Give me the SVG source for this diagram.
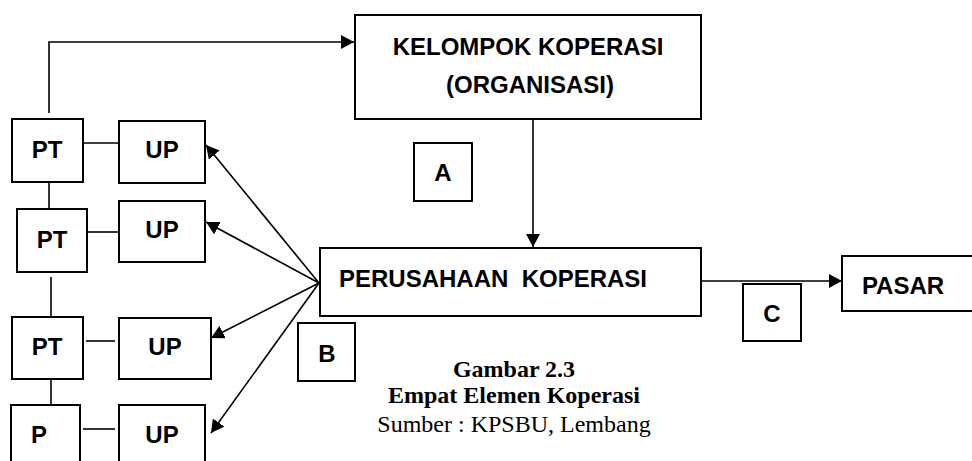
<svg xmlns="http://www.w3.org/2000/svg" width="972" height="461" viewBox="0 0 972 461">
<style>
.box{fill:#fff;stroke:#000;stroke-width:2}
.lbl{font-family:"Liberation Sans",Arial,sans-serif;font-weight:bold;font-size:24px;fill:#000;text-anchor:middle}
.ln{fill:none;stroke:#000;stroke-width:1.6}
.cap{font-family:"Liberation Serif","Times New Roman",serif;font-size:24px;fill:#000;text-anchor:middle}
</style>
<defs>
<marker id="ah" markerUnits="userSpaceOnUse" markerWidth="14" markerHeight="14" refX="13" refY="7" orient="auto">
<path d="M0,0 L13,7 L0,14 z" fill="#000"/>
</marker>
</defs>
<rect width="972" height="461" fill="#fff"/>
<g id="connectors">
<polyline class="ln" points="49,113 49,42 354,42" marker-end="url(#ah)"/>
<line class="ln" x1="533" y1="119" x2="533" y2="247" marker-end="url(#ah)"/>
<line class="ln" x1="701" y1="281" x2="842" y2="281" marker-end="url(#ah)"/>
<line class="ln" x1="319" y1="283" x2="206" y2="145" marker-end="url(#ah)"/>
<line class="ln" x1="319" y1="283" x2="206" y2="222" marker-end="url(#ah)"/>
<line class="ln" x1="319" y1="283" x2="211" y2="338" marker-end="url(#ah)"/>
<line class="ln" x1="319" y1="283" x2="211" y2="433" marker-end="url(#ah)"/>
<line class="ln" x1="83" y1="143" x2="119" y2="143"/>
<line class="ln" x1="87" y1="232" x2="119" y2="232"/>
<line class="ln" x1="86" y1="341" x2="115" y2="341"/>
<line class="ln" x1="83" y1="429" x2="115" y2="429"/>
<line class="ln" x1="49" y1="173" x2="49" y2="209"/>
<line class="ln" x1="51" y1="277" x2="51" y2="317"/>
<line class="ln" x1="51" y1="379" x2="51" y2="405"/>
</g>
<g id="kelompok">
<rect class="box" x="355" y="15" width="346" height="104"/>
<text class="lbl" x="528" y="55">KELOMPOK KOPERASI</text>
<text class="lbl" x="530" y="93">(ORGANISASI)</text>
</g>
<g id="perusahaan">
<rect class="box" x="320" y="248" width="381" height="68"/>
<text class="lbl" x="493" y="287" xml:space="preserve">PERUSAHAAN  KOPERASI</text>
</g>
<g id="pasar">
<rect class="box" x="842" y="256" width="140" height="55"/>
<text class="lbl" x="903" y="294">PASAR</text>
</g>
<g id="A">
<rect class="box" x="414" y="143" width="58" height="58"/>
<text class="lbl" x="443" y="181">A</text>
</g>
<g id="B">
<rect class="box" x="298" y="323" width="57" height="58"/>
<text class="lbl" x="327" y="362">B</text>
</g>
<g id="C">
<rect class="box" x="743" y="284" width="58" height="57"/>
<text class="lbl" x="772" y="322">C</text>
</g>
<g id="pt1">
<rect class="box" x="12" y="119" width="71" height="63"/>
<text class="lbl" x="47" y="158">PT</text>
</g>
<g id="up1">
<rect class="box" x="119" y="121" width="86" height="62"/>
<text class="lbl" x="162" y="158">UP</text>
</g>
<g id="pt2">
<rect class="box" x="17" y="209" width="70" height="63"/>
<text class="lbl" x="52" y="248">PT</text>
</g>
<g id="up2">
<rect class="box" x="119" y="201" width="86" height="61"/>
<text class="lbl" x="162" y="238">UP</text>
</g>
<g id="pt3">
<rect class="box" x="12" y="317" width="71" height="62"/>
<text class="lbl" x="47" y="355">PT</text>
</g>
<g id="up3">
<rect class="box" x="119" y="318" width="92" height="61"/>
<text class="lbl" x="165" y="355">UP</text>
</g>
<g id="p">
<rect class="box" x="11" y="405" width="69" height="60"/>
<text class="lbl" x="39" y="443">P</text>
</g>
<g id="up4">
<rect class="box" x="119" y="405" width="86" height="60"/>
<text class="lbl" x="162" y="443">UP</text>
</g>
<g id="caption">
<text class="cap" x="514" y="377" font-weight="bold">Gambar 2.3</text>
<text class="cap" x="514" y="403" font-weight="bold">Empat Elemen Koperasi</text>
<text class="cap" x="514" y="432">Sumber : KPSBU, Lembang</text>
</g>
</svg>
